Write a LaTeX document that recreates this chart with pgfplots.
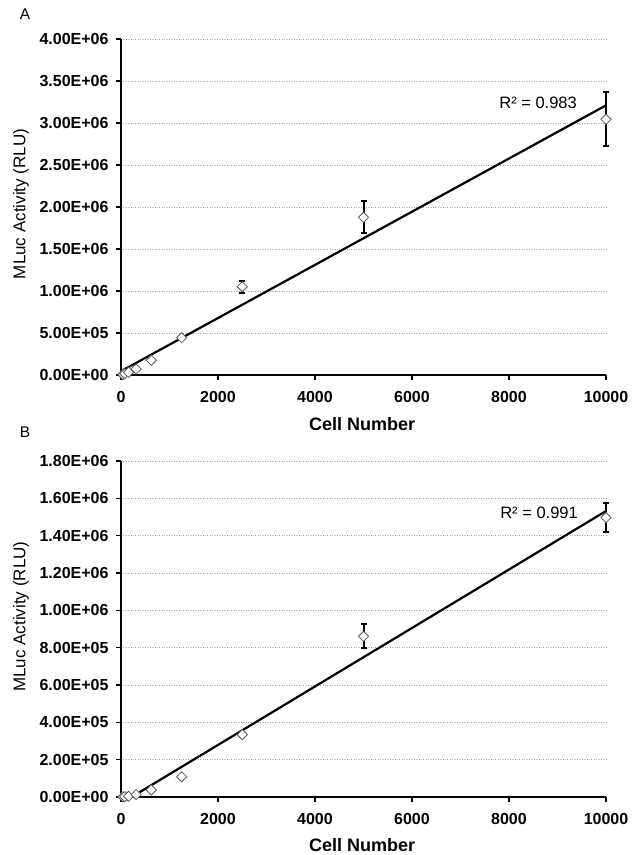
\documentclass[border=0pt]{standalone}
\usepackage{pgfplots}
\pgfplotsset{compat=1.18}
\usepackage{fontspec}
\setmainfont{Liberation Sans}
\pgfplotsset{
  panel/.style={
    scale only axis, width=485pt, height=336pt,
    xmin=0, xmax=10000, ymin=0,
    axis lines=left,
    x axis line style={-, line width=2.2pt},
    y axis line style={-, line width=2.2pt},
    tick align=outside,
    major tick length=5pt,
    tick style={line width=1.5pt, black},
    ymajorgrids,
    grid style={gray!70, dotted, line width=0.7pt},
    scaled x ticks=false, scaled y ticks=false,
    xtick={0,2000,4000,6000,8000,10000},
    xticklabels={0,2000,4000,6000,8000,10000},
    ticklabel style={font=\bfseries\fontsize{16}{18}\selectfont},
    xticklabel style={yshift=-8pt},
    yticklabel style={xshift=-4pt},
    xlabel={Cell Number},
    xlabel style={font=\bfseries\fontsize{18}{20}\selectfont, anchor=center},
    ylabel={MLuc Activity (RLU)},
    ylabel style={font=\fontsize{17}{19}\selectfont, anchor=center},
    clip=false,
  },
  pts/.style={
    only marks, mark=square*, mark size=3.6pt,
    mark options={rotate=45, fill=white, draw=black!65, line width=0.8pt, solid},
    error bars/.cd, y dir=both, y explicit,
    error bar style={line width=2pt, black},
    error mark options={rotate=90, mark size=3pt, line width=2pt, black},
  },
}
\begin{document}
\begin{tikzpicture}
\path[use as bounding box] (0,0) rectangle (632pt,855pt);
\node[font=\fontsize{15.5}{17}\selectfont] at (25pt,840.5pt) {A};
\node[font=\fontsize{15.5}{17}\selectfont] at (25pt,423pt) {B};
% Panel A
\begin{axis}[panel, at={(121pt,480pt)}, anchor=south west,
  ymax=4e6,
  ytick={0,5e5,1e6,1.5e6,2e6,2.5e6,3e6,3.5e6,4e6},
  yticklabels={0.00E+00,5.00E+05,1.00E+06,1.50E+06,2.00E+06,2.50E+06,3.00E+06,3.50E+06,4.00E+06},
  xlabel style={at={(axis description cs:0.497,-0.146)}},
  ylabel style={at={(axis description cs:-0.206,0.509)}},
]
\addplot[black, line width=2.2pt] coordinates {(0,45000) (10000,3210000)};
\addplot[pts] coordinates {
 (39,6000) +- (0,0)
 (78,15000) +- (0,0)
 (156,32000) +- (0,0)
 (312.5,70000) +- (0,5000)
 (625,175000) +- (0,10000)
 (1250,444000) +- (0,20000)
 (2500,1051000) +- (0,70000)
 (5000,1877000) +- (0,190000)
 (10000,3044000) +- (0,320000)
};
\node[font=\fontsize{16.5}{18}\selectfont] at (axis cs:8600,3238000) {R² = 0.983};
\end{axis}
% Panel B
\begin{axis}[panel, at={(121pt,58pt)}, anchor=south west,
  ymax=1.8e6,
  ytick={0,2e5,4e5,6e5,8e5,1e6,1.2e6,1.4e6,1.6e6,1.8e6},
  yticklabels={0.00E+00,2.00E+05,4.00E+05,6.00E+05,8.00E+05,1.00E+06,1.20E+06,1.40E+06,1.60E+06,1.80E+06},
  xlabel style={at={(axis description cs:0.497,-0.143)}},
  ylabel style={at={(axis description cs:-0.206,0.537)}},
]
\addplot[black, line width=2.2pt] coordinates {(220,0) (10000,1532000)};
\addplot[pts] coordinates {
 (39,1000) +- (0,0)
 (78,2000) +- (0,0)
 (156,4000) +- (0,0)
 (312.5,13000) +- (0,0)
 (625,38000) +- (0,3000)
 (1250,108000) +- (0,5000)
 (2500,334000) +- (0,10000)
 (5000,861000) +- (0,65000)
 (10000,1497000) +- (0,80000)
};
\node[font=\fontsize{16.5}{18}\selectfont] at (axis cs:8620,1520000) {R² = 0.991};
\end{axis}
\end{tikzpicture}
\end{document}
